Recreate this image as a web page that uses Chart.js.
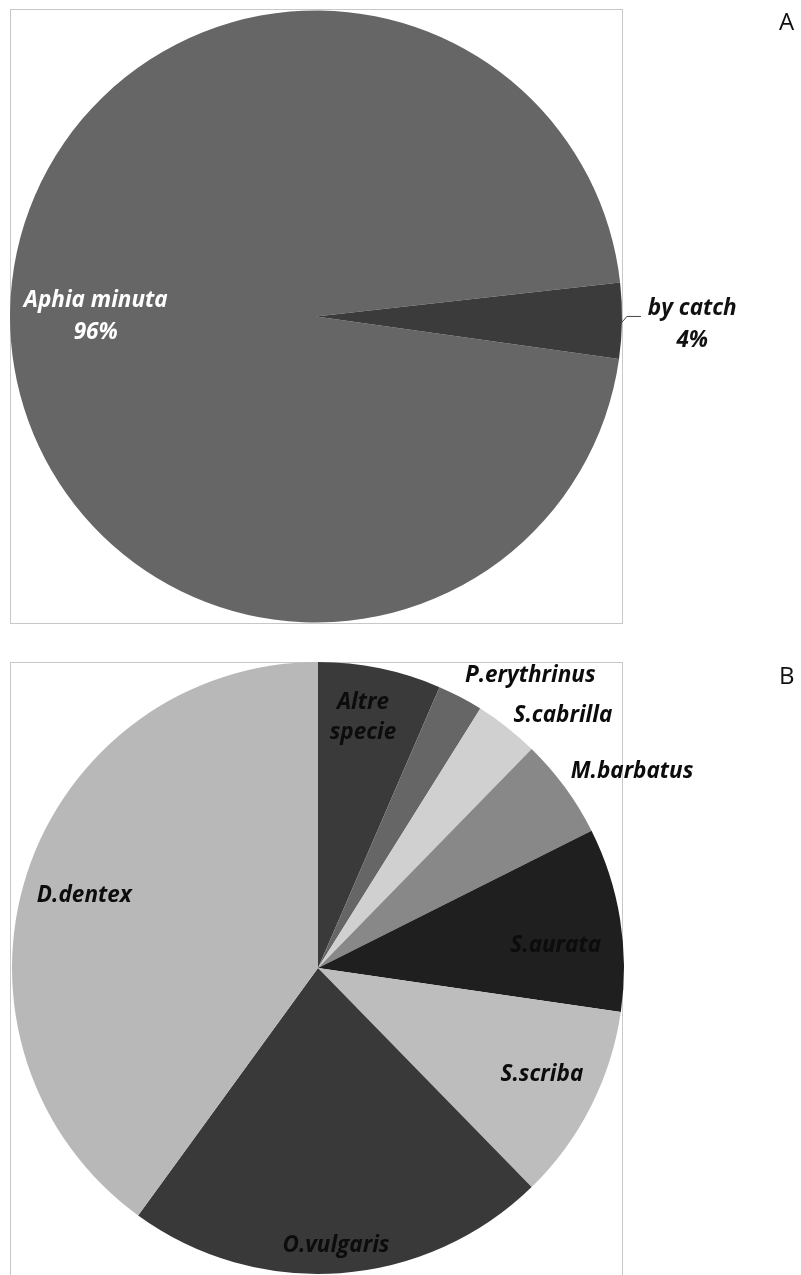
<!DOCTYPE html>
<html>
<head>
<meta charset="utf-8">
<script src="https://cdn.jsdelivr.net/npm/chart.js@4.4.0/dist/chart.umd.min.js"></script>
<style>
  body { margin: 0; background: #fff; width: 801px; height: 1275px; position: relative; overflow: hidden; }
  .frame { position: absolute; border: 1px solid #c8c8c8; box-sizing: border-box; }
  #frameA { left: 10px; top: 9px; width: 613px; height: 615px; }
  #frameB { left: 10px; top: 662px; width: 613px; height: 640px; }
  .wrap { position: absolute; left: 0; width: 801px; }
  #wrapA { top: 0; height: 640px; }
  #wrapB { top: 640px; height: 635px; }
  .tag { position: absolute; left: 779px; font: 24px "Open Sans", sans-serif; color: #111; line-height: 1; }
</style>
</head>
<body>
<div class="frame" id="frameA"></div>
<div class="frame" id="frameB"></div>
<div class="wrap" id="wrapA"><canvas id="pieA" width="801" height="640"></canvas></div>
<div class="wrap" id="wrapB"><canvas id="pieB" width="801" height="635"></canvas></div>
<div class="tag" style="top:9px">A</div>
<div class="tag" style="top:663px">B</div>
<script>
// ===== Data =====
const catchLabels = ['Aphia minuta', 'by catch'];
const catchValues = [96, 4];
const catchColors = ['#666666', '#3b3b3b'];

const speciesLabels = ['Altre specie', 'P.erythrinus', 'S.cabrilla', 'M.barbatus', 'S.aurata', 'S.scriba', 'O.vulgaris', 'D.dentex'];
const speciesValues = [6.5, 2.4, 3.4, 5.3, 9.7, 10.4, 22.3, 40.0];
const speciesColors = ['#3a3a3a', '#666666', '#d0d0d0', '#888888', '#1f1f1f', '#bdbdbd', '#393939', '#b8b8b8'];

// label placement: angle (deg, clockwise from 12 o'clock) and distance as share of the radius
const catchPlace = [
    { lines: ['Aphia minuta', '96%'], a: 270, rf: 0.72, color: '#ffffff' },
    { lines: ['by catch', '4%'], a: 91.3, rf: 1.23, color: '#111111', leader: true }
];
const speciesPlace = [
    { lines: ['Altre', 'specie'], a: 10.2, rf: 0.83 },
    { lines: ['P.erythrinus'], a: 36.0, rf: 1.18 },
    { lines: ['S.cabrilla'], a: 44.1, rf: 1.15 },
    { lines: ['M.barbatus'], a: 58.0, rf: 1.21 },
    { lines: ['S.aurata'], a: 84.7, rf: 0.78 },
    { lines: ['S.scriba'], a: 115.4, rf: 0.81 },
    { lines: ['O.vulgaris'], a: 176.3, rf: 0.91 },
    { lines: ['D.dentex'], a: 287.3, rf: 0.80 }
];

const FONT = 'italic bold 22.5px "Open Sans", sans-serif';

// ===== Plugin: slice labels =====
const sliceLabels = {
    id: 'sliceLabels',
    afterDatasetsDraw(chart, args, opts) {
        const arc = chart.getDatasetMeta(0).data[0];
        if (!arc) return;
        const { x: cx, y: cy, outerRadius: r } = arc;
        const lh = opts.lineHeight || 30;
        const ctx = chart.ctx;
        ctx.save();
        ctx.font = FONT;
        ctx.textAlign = 'center';
        ctx.textBaseline = 'middle';
        (opts.items || []).forEach(it => {
            const rad = it.a * Math.PI / 180;
            const x = cx + r * it.rf * Math.sin(rad);
            const y = cy - r * it.rf * Math.cos(rad);
            ctx.fillStyle = it.color || '#0c0c0c';
            const y0 = y - (it.lines.length - 1) * lh / 2;
            it.lines.forEach((ln, i) => ctx.fillText(ln, x, y0 + i * lh));
            if (it.leader) {
                // short leader from the slice edge to the label
                const ex = cx + r * Math.sin(rad) - 1;
                const ey = cy - r * Math.cos(rad);
                ctx.strokeStyle = '#444';
                ctx.lineWidth = 1;
                ctx.beginPath();
                ctx.moveTo(ex, ey);
                ctx.lineTo(ex + 6, ey - 7);
                ctx.lineTo(ex + 20, ey - 7);
                ctx.stroke();
            }
        });
        ctx.restore();
    }
};

function makePie(id, labels, values, colors, rotation, padding, items, lineHeight) {
    return new Chart(document.getElementById(id), {
        type: 'pie',
        data: {
            labels: labels,
            datasets: [{ data: values, backgroundColor: colors, borderWidth: 0 }]
        },
        options: {
            responsive: false,
            animation: false,
            events: [],
            rotation: rotation,
            layout: { padding: padding },
            plugins: {
                legend: { display: false },
                tooltip: { enabled: false },
                sliceLabels: { items: items, lineHeight: lineHeight }
            }
        },
        plugins: [sliceLabels]
    });
}

makePie('pieA', catchLabels, catchValues, catchColors, 98,
    { left: 10, right: 179, top: 10, bottom: 17 }, catchPlace, 32);
makePie('pieB', speciesLabels, speciesValues, speciesColors, 0,
    { left: 12, right: 177, top: 22, bottom: 1 }, speciesPlace, 30);
</script>
</body>
</html>
